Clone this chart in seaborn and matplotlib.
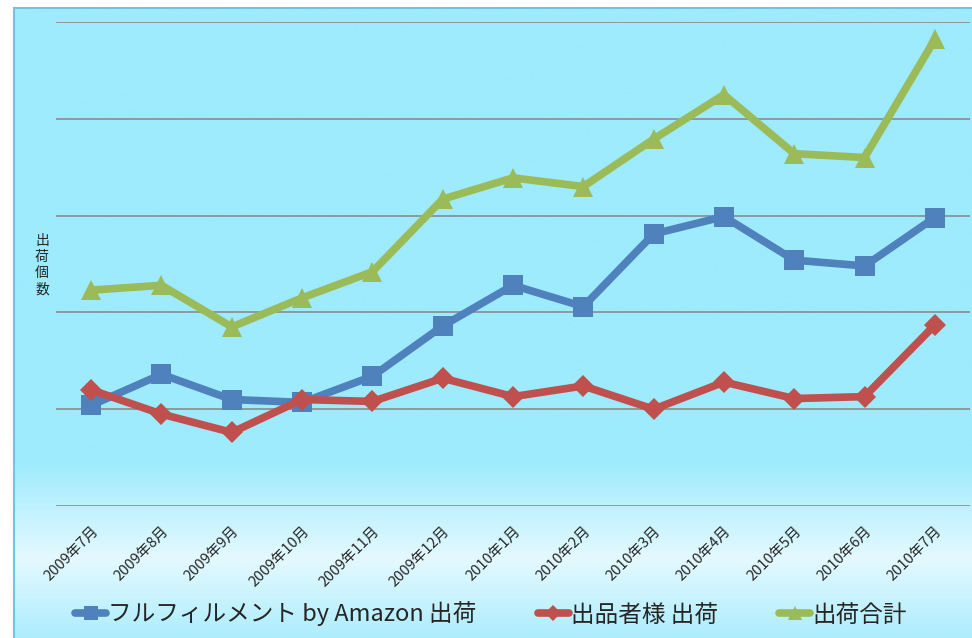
import numpy as np
import pandas as pd
import matplotlib
matplotlib.use("Agg")
import matplotlib.pyplot as plt
import seaborn as sns
from matplotlib.colors import LinearSegmentedColormap

# values (grid units, no y scale shown)
months = ["2009年7月", "2009年8月", "2009年9月", "2009年10月", "2009年11月", "2009年12月",
          "2010年1月", "2010年2月", "2010年3月", "2010年4月", "2010年5月", "2010年6月", "2010年7月"]
fba = [1.04, 1.36, 1.10, 1.07, 1.34, 1.86, 2.28, 2.06, 2.81, 2.99, 2.54, 2.48, 2.98]
seller = [1.20, 0.95, 0.76, 1.10, 1.08, 1.32, 1.13, 1.24, 1.00, 1.28, 1.11, 1.13, 1.87]
total = [2.23, 2.28, 1.85, 2.15, 2.42, 3.17, 3.39, 3.30, 3.79, 4.25, 3.64, 3.60, 4.82]
series_names = ["フルフィルメント by Amazon 出荷", "出品者様 出荷", "出荷合計"]

sns.set_style("white")
plt.rcParams['font.family'] = ['Noto Sans CJK JP', 'DejaVu Sans']

fig = plt.figure(figsize=(9.72, 6.38), dpi=100)
fig.patch.set_facecolor("white")

# gradient background of the chart frame
bg = fig.add_axes([14 / 972, 0, 958 / 972, 630 / 638])
grad_cmap = LinearSegmentedColormap.from_list(
    "bg", [(0.0, "#9debfd"), (0.72, "#9debfd"), (0.875, "#e4f9ff"), (1.0, "#aeedfd")])
bg.imshow(np.linspace(0, 1, 256).reshape(-1, 1), aspect="auto", cmap=grad_cmap,
          extent=[0, 1, 1, 0])
bg.set_xticks([])
bg.set_yticks([])
for s in ["right", "bottom"]:
    bg.spines[s].set_visible(False)
for s in ["left", "top"]:
    bg.spines[s].set_color("#6cc8e0")
    bg.spines[s].set_linewidth(1.5)

ax = fig.add_axes([56 / 972, 132 / 638, 914 / 972, 484 / 638])
ax.set_facecolor("none")

x = np.arange(len(months))
df = pd.DataFrame({
    "x": np.tile(x, 3),
    "value": fba + seller + total,
    "series": np.repeat(series_names, len(months)),
})
palette = {series_names[0]: "#4f81bd", series_names[1]: "#c0504d", series_names[2]: "#9bbb59"}
markers = {series_names[0]: "s", series_names[1]: "D", series_names[2]: "^"}
sizes = {series_names[0]: 14, series_names[1]: 11, series_names[2]: 15}

for name in series_names:
    sub = df[df["series"] == name]
    sns.lineplot(data=sub, x="x", y="value", ax=ax, color=palette[name], marker=markers[name],
                 markersize=sizes[name], markeredgewidth=0, linewidth=5.5, label=name,
                 clip_on=False)

ax.set_xlim(-0.5, len(months) - 0.5)
ax.set_ylim(0, 5)
ax.set_yticks(np.arange(0, 6))
ax.set_yticklabels([])
ax.yaxis.grid(True, color="#8c8c8c", linewidth=1.2)
ax.set_axisbelow(True)
for s in ax.spines.values():
    s.set_visible(False)
ax.set_xticks(x)
ax.set_xticklabels(months, rotation=45, ha="right", va="top", rotation_mode="anchor", fontsize=10.5)
ax.tick_params(axis="x", length=0, pad=13)
ax.tick_params(axis="y", length=0)
ax.set_xlabel("")
ax.set_ylabel("")

fig.text(42 / 972, 1 - 265 / 638, "\n".join("出荷個数"), fontsize=10, ha="center", va="center",
         linespacing=1.2)

handles, labels = ax.get_legend_handles_labels()
ax.legend(handles, labels, loc="center", bbox_to_anchor=(0.5 - 22 / 914, -108 / 484), ncol=3,
          frameon=False, fontsize=17, handlelength=1.3, handletextpad=0.1, columnspacing=2.6,
          markerscale=0.7)

fig.savefig("out.png", dpi=100, facecolor=fig.get_facecolor())
